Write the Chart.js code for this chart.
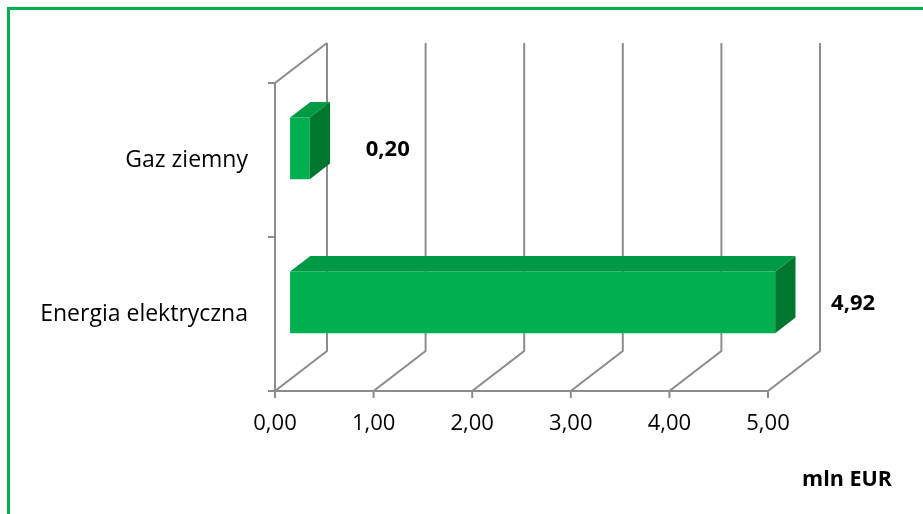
<!DOCTYPE html>
<html>
<head>
<meta charset="utf-8">
<script src="https://cdn.jsdelivr.net/npm/chart.js@4.4.1/dist/chart.umd.min.js"></script>
<style>
html,body{margin:0;padding:0;background:#fff;overflow:hidden;}
#wrap{position:absolute;left:0;top:0;width:923px;height:514px;}
#frame{position:absolute;left:7px;top:7px;width:930px;height:520px;border-left:3px solid #00b050;border-top:3px solid #00b050;box-sizing:border-box;}
canvas{position:absolute;left:0;top:0;}
</style>
</head>
<body>
<div id="wrap">
<div id="frame"></div>
<canvas id="c" width="923" height="514"></canvas>
</div>
<script>
// ---- data ----
const categories = ['Gaz ziemny', 'Energia elektryczna'];
const values = [0.20, 4.92];
const axisMin = 0;
const axisMax = 5;
const axisStep = 1;
const unitLabel = 'mln EUR';

const FONT = '"Open Sans"';
const GRID = '#8c8c8c';
const DEPTH = {dx: 52, dy: -40};       // back-plane offset
const BAR_SHIFT = 0.29;               // bar front position within depth
const BAR_DEPTH = 0.39;               // bar depth as fraction of full depth
const FRONT = '#00b050', TOP = '#009a45', SIDE = '#00762f';

const fmt = v => v.toFixed(2).replace('.', ',');

const threeD = {
  id: 'threeD',
  beforeDatasetsDraw(chart) {
    const ctx = chart.ctx, xs = chart.scales.x, ys = chart.scales.y;
    const top = ys.top, bot = ys.bottom, mid = (top + bot) / 2;
    ctx.save();
    ctx.strokeStyle = GRID; ctx.lineWidth = 2; ctx.lineCap = 'butt';
    ctx.beginPath();
    const x0 = xs.getPixelForValue(axisMin);
    ctx.moveTo(x0, bot); ctx.lineTo(x0, top);
    ctx.lineTo(x0 + DEPTH.dx, top + DEPTH.dy);
    [top, mid, bot].forEach(y => { ctx.moveTo(x0 - 7, y); ctx.lineTo(x0, y); });
    ctx.moveTo(x0, bot); ctx.lineTo(xs.getPixelForValue(axisMax), bot);
    for (let v = axisMin; v <= axisMax + 1e-9; v += axisStep) {
      const x = xs.getPixelForValue(v);
      ctx.moveTo(x, bot + 7); ctx.lineTo(x, bot);
      ctx.lineTo(x + DEPTH.dx, bot + DEPTH.dy);
      ctx.lineTo(x + DEPTH.dx, top + DEPTH.dy);
    }
    ctx.stroke();
    ctx.restore();
    ctx.save();
    ctx.translate(DEPTH.dx * BAR_SHIFT, DEPTH.dy * BAR_SHIFT);
  },
  afterDatasetsDraw(chart) {
    const ctx = chart.ctx, xs = chart.scales.x;
    ctx.restore();
    const ox = DEPTH.dx * BAR_SHIFT, oy = DEPTH.dy * BAR_SHIFT;
    const ddx = DEPTH.dx * BAR_DEPTH, ddy = DEPTH.dy * BAR_DEPTH;
    const meta = chart.getDatasetMeta(0);
    meta.data.forEach((el, i) => {
      const p = el.getProps(['x', 'y', 'base', 'height'], true);
      const l = Math.min(p.x, p.base) + ox, r = Math.max(p.x, p.base) + ox;
      const t = p.y - p.height / 2 + oy, b = p.y + p.height / 2 + oy;
      ctx.fillStyle = TOP;
      ctx.beginPath();
      ctx.moveTo(l, t); ctx.lineTo(l + ddx, t + ddy); ctx.lineTo(r + ddx, t + ddy); ctx.lineTo(r, t);
      ctx.closePath(); ctx.fill();
      ctx.fillStyle = SIDE;
      ctx.beginPath();
      ctx.moveTo(r, t); ctx.lineTo(r + ddx, t + ddy); ctx.lineTo(r + ddx, b + ddy); ctx.lineTo(r, b);
      ctx.closePath(); ctx.fill();
      ctx.fillStyle = '#000';
      ctx.font = 'bold 22px ' + FONT;
      ctx.textAlign = 'left'; ctx.textBaseline = 'middle';
      ctx.fillText(fmt(values[i]), xs.getPixelForValue(values[i]) + 71, p.y - 10);
    });
    ctx.fillStyle = '#000';
    ctx.font = 'bold 21.5px ' + FONT;
    ctx.textAlign = 'center'; ctx.textBaseline = 'middle';
    ctx.fillText(unitLabel, 847, 480);
  }
};

new Chart(document.getElementById('c'), {
  type: 'bar',
  data: {
    labels: categories,
    datasets: [{
      data: values,
      backgroundColor: FRONT,
      borderWidth: 0,
      barPercentage: 0.4,
      categoryPercentage: 1,
      clip: false
    }]
  },
  options: {
    indexAxis: 'y',
    responsive: false,
    animation: false,
    events: [],
    layout: {padding: {left: 0, top: 83, right: 155, bottom: 0}},
    plugins: {legend: {display: false}, tooltip: {enabled: false}},
    scales: {
      x: {
        min: axisMin, max: axisMax,
        grid: {display: false, drawTicks: false},
        border: {display: false},
        afterFit: s => { s.height = 123; },
        ticks: {
          stepSize: axisStep,
          padding: 20,
          color: '#000',
          font: {family: 'Open Sans', size: 22},
          maxRotation: 0,
          callback: v => fmt(v)
        }
      },
      y: {
        grid: {display: false, drawTicks: false},
        border: {display: false},
        afterFit: s => { s.width = 275; },
        ticks: {
          padding: 27,
          color: '#000',
          font: {family: 'Open Sans', size: 23}
        }
      }
    }
  },
  plugins: [threeD]
});
</script>
</body>
</html>
